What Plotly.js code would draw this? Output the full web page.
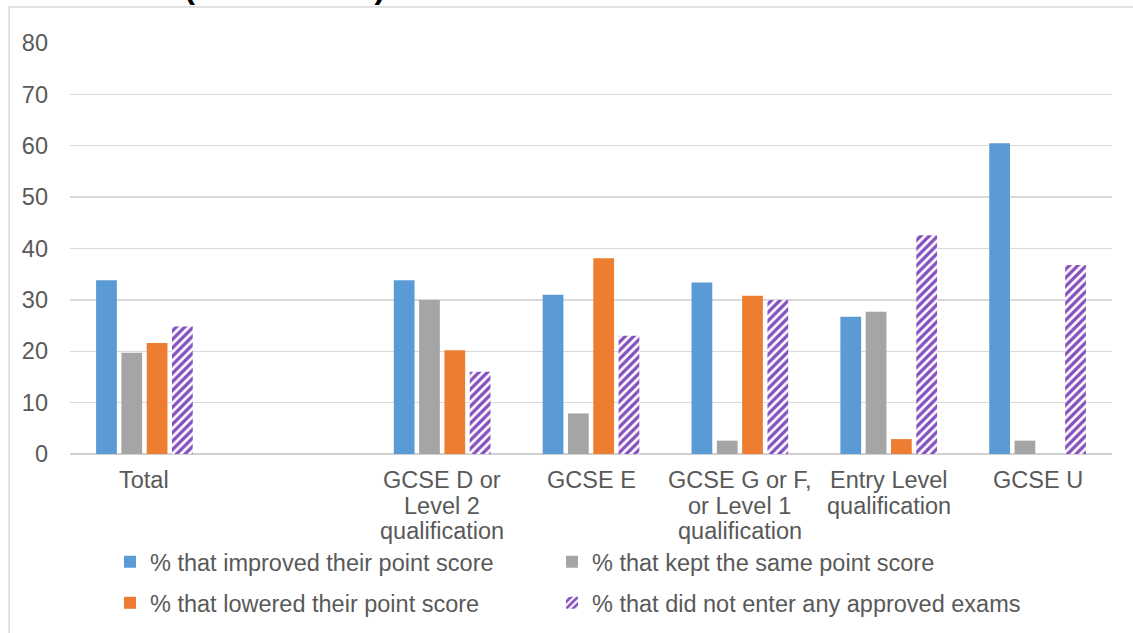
<!DOCTYPE html>
<html>
<head>
<meta charset="utf-8">
<script src="https://cdn.plot.ly/plotly-3.0.1.min.js"></script>
<style>html,body{margin:0;padding:0;background:#fff;}#chart{width:1133px;height:633px;}</style>
</head>
<body>
<div id="chart"></div>
<script>
const categories = ["Total", " ", "GCSE D or<br>Level 2<br>qualification", "GCSE E", "GCSE G or F,<br>or Level 1<br>qualification", "Entry Level<br>qualification", "GCSE U"];
const improved = [33.8, null, 33.8, 31.0, 33.4, 26.7, 60.5];
const keptSame = [19.7, null, 30.0, 7.9, 2.6, 27.7, 2.6];
const lowered = [21.6, null, 20.2, 38.1, 30.8, 2.9, 0];
const notEntered = [24.8, null, 16.0, 23.0, 30.0, 42.6, 36.8];
const seriesNames = ["% that improved their point score", "% that kept the same point score", "% that lowered their point score", "% that did not enter any approved exams"];
const yTicks = [0, 10, 20, 30, 40, 50, 60, 70, 80];
const titleText = "NPD data (2015 cohort)";

const FAMILY = "Liberation Sans, Arial, sans-serif";
const font = {family: FAMILY, size: 23.5, color: "#595959"};
const traces = [
  {type: "bar", name: seriesNames[0], x: categories, y: improved, marker: {color: "#5b9bd5"}, legend: "legend"},
  {type: "bar", name: seriesNames[1], x: categories, y: keptSame, marker: {color: "#a5a5a5"}, legend: "legend2"},
  {type: "bar", name: seriesNames[2], x: categories, y: lowered, marker: {color: "#ed7d31"}, legend: "legend3"},
  {type: "bar", name: seriesNames[3], x: categories, y: notEntered, legend: "legend4",
   marker: {color: "#ffffff", pattern: {shape: "/", fgcolor: "#8450bd", fgopacity: 1, bgcolor: "#ffffff", size: 6, solidity: 0.55, fillmode: "overlay"}}}
];
traces.forEach(t => { t.hoverinfo = "skip"; });

// category tick labels drawn line by line (tighter line spacing than Plotly's default)
const lineY = [-0.0633, -0.1265, -0.1873];
const labelAnnotations = [];
categories.forEach(cat => {
  cat.split("<br>").forEach((line, i) => {
    if (line.trim() === "") return;
    labelAnnotations.push({text: line, xref: "x", x: cat, yref: "paper", y: lineY[i], yanchor: "middle",
                           xanchor: "center", showarrow: false, font: font});
  });
});

function legendAt(x, y) {
  return {orientation: "h", xref: "container", yref: "container", x: x, xanchor: "left", y: y, yanchor: "middle",
          font: font, bgcolor: "rgba(0,0,0,0)"};
}

const layout = {
  width: 1133, height: 633,
  margin: {l: 70, r: 21, t: 43, b: 179},
  paper_bgcolor: "#ffffff", plot_bgcolor: "#ffffff",
  font: font,
  barmode: "group", bargap: 0.32, bargroupgap: 0.18,
  showlegend: true,
  xaxis: {type: "category", categoryorder: "array", categoryarray: categories, showgrid: false, zeroline: false,
          showline: false, ticks: "", showticklabels: false, automargin: false, fixedrange: true},
  yaxis: {range: [0, 80], tickvals: yTicks, showgrid: true, gridcolor: "#d9d9d9", gridwidth: 1.3,
          zeroline: true, zerolinecolor: "#d0d0d0", zerolinewidth: 2, showline: false, ticks: "",
          tickfont: font, ticklabelstandoff: 21, automargin: false, fixedrange: true},
  legend: legendAt(0.0971, 0.1122),
  legend2: legendAt(0.4872, 0.1122),
  legend3: legendAt(0.0971, 0.0474),
  legend4: legendAt(0.4872, 0.0474),
  shapes: [{type: "rect", xref: "paper", yref: "paper", x0: -0.0585, x1: 1.2, y0: -0.6, y1: 1.0876,
            line: {color: "#d9d9d9", width: 1.5}, fillcolor: "rgba(0,0,0,0)", layer: "below"}],
  annotations: [{text: "<b>" + titleText + "</b>", xref: "paper", yref: "paper", x: 0.304, xanchor: "right",
                 y: 1.0888, yanchor: "bottom", showarrow: false, font: {family: FAMILY, size: 32, color: "#000000"}}]
    .concat(labelAnnotations)
};
Plotly.newPlot("chart", traces, layout, {displayModeBar: false, staticPlot: true});
</script>
</body>
</html>
